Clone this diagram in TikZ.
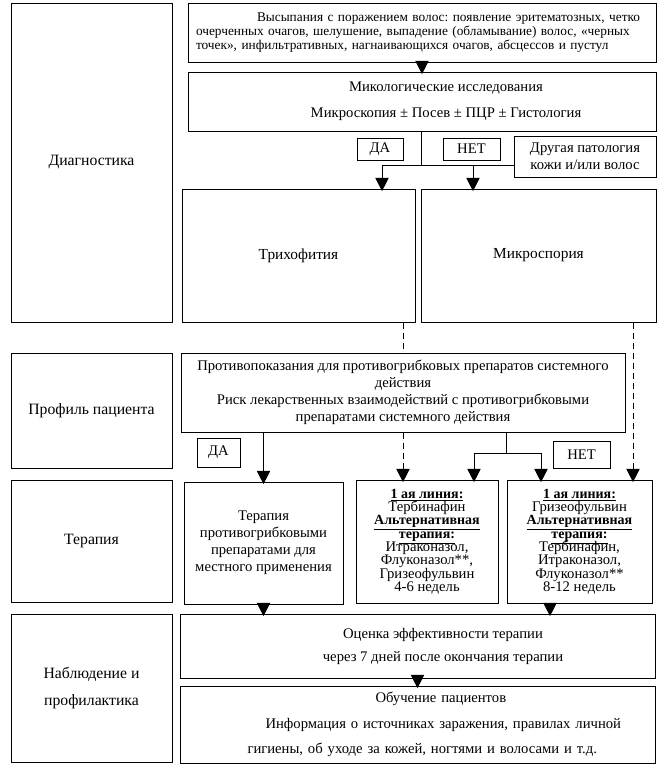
\documentclass[tikz,border=0pt]{standalone}
\usepackage{fontspec}
\setmainfont{Liberation Serif}
\usetikzlibrary{arrows.meta}
\newlength{\pxu}\setlength{\pxu}{0.75pt}
\newcommand{\drughead}[1]{{\fontsize{10.5}{10}\selectfont\bfseries\underline{#1}}}
\newcommand{\tightlines}{\lineskiplimit-20pt\relax}
\frenchspacing

\begin{document}
\begin{tikzpicture}[
    x=0.75pt, y=-0.75pt,
    box/.style args={#1/#2}{rectangle, draw=black, line width=0.75pt, fill=white, inner sep=0pt, minimum width=#1*0.75pt, minimum height=#2*0.75pt, align=center, font=\fontsize{11}{12.75}\selectfont},
    stage/.style args={#1/#2}{box=#1/#2, font=\fontsize{11.8}{20}\selectfont},
    drug/.style={font=\fontsize{11}{10}\selectfont\tightlines},
    link/.style={line width=0.75pt},
    arrow/.style={-{Triangle[width=10pt,length=10pt]}, line width=0.75pt, shorten >=-2pt},
    hint/.style={dash pattern=on 4.5pt off 3pt}
]
\useasboundingbox (0,0) rectangle (660,768);

% Stages (left column)
\node [stage=161/319] (diag) at (91.5,162.5) {Диагностика};
\node [stage=161/115] (profile) at (91.5,410.5) {Профиль пациента};
\node [stage=161/122] (therapy) at (91.5,541) {Терапия};
\node [stage=161/148] (follow) at (91.5,688) {Наблюдение и\\профилактика};

% Diagnosis
\node [box=468/59, text width=339pt, align=left, font=\fontsize{10}{10.5}\selectfont] (rash) at (422,32.5)
    {\hspace*{61\pxu}Высыпания с поражением волос: появление эритематозных, четко\\
     \mbox{очерченных очагов, шелушение, выпадение (обламывание) волос, «черных}\\
     точек», инфильтративных, нагнаивающихся очагов, абсцессов и пустул};
\node [box=468/59, font=\fontsize{11}{19.5}\selectfont] (myco) at (422,101.5)
    {\hspace*{48\pxu}Микологические исследования\\\hspace*{48\pxu}Микроскопия ± Посев ± ПЦР ± Гистология};
\node [box=46/22] (yes1) at (380,149) {ДА};
\node [box=57/22] (no1) at (471.5,149) {НЕТ};
\node [box=142/41] (other) at (585,156.5) {Другая патология\\кожи и/или волос};
\node [box=233/133, font=\fontsize{11.5}{13}\selectfont] (tricho) at (298.5,255.5) {Трихофития};
\node [box=235/133, font=\fontsize{11.5}{13}\selectfont] (micro) at (538.5,255.5) {Микроспория};

% Patient profile
\node [box=444/79] (contra) at (403,392.5)
    {Противопоказания для противогрибковых препаратов системного\\действия\\
     Риск лекарственных взаимодействий с противогрибковыми\\препаратами системного действия};
\node [box=43/29] (yes2) at (218.5,452.5) {ДА};
\node [box=57/27] (no2) at (581.5,454.5) {НЕТ};

% Therapy
\node [box=159/122] (local) at (263.5,543) {Терапия\\противогрибковыми\\препаратами для\\местного применения};
\node [box=142/123, drug] (trichoT) at (427,541.5)
    {\drughead{1 ая линия:}\\Тербинафин\\\drughead{Альтернативная}\\\drughead{терапия:}\\
     Итраконазол,\\Флуконазол**,\\Гризеофульвин\\4-6 недель};
\node [box=145/123, drug] (microT) at (579.5,541.5)
    {\drughead{1 ая линия:}\\Гризеофульвин\\\drughead{Альтернативная}\\\drughead{терапия:}\\
     Тербинафин,\\Итраконазол,\\Флуконазол**\\8-12 недель};

% Follow-up
\node [box=475/64, font=\fontsize{11}{17.25}\selectfont] (eval) at (417.5,646)
    {\hspace*{51\pxu}Оценка эффективности терапии\\\hspace*{51\pxu}через 7 дней после окончания терапии};
\node [box=475/77, text width=321pt, align=left, font=\fontsize{11}{19}\selectfont] (edu) at (417.5,724.5)
    {\hspace*{172\pxu}Обучение пациентов\\
     \hspace*{62\pxu}\mbox{Информация о источниках заражения, правилах личной}\\
     \hspace*{44\pxu}\mbox{гигиены, об уходе за кожей, ногтями и волосами и т.д.}};

% Fork points and lanes
\coordinate (fork1) at (421,165);
\coordinate (f1l) at (382,165);
\coordinate (f1r) at (473,165);
\coordinate (fork2) at (506,453);
\coordinate (f2l) at (474,453);
\coordinate (f2r) at (541,453);
\coordinate (laneM) at (633,0);
\coordinate (laneE) at (550,0);

% Arrows
\draw [arrow] (rash) -- (myco);
\draw [link] (myco.south -| fork1) -- (fork1);
\draw [link] (f1l) -- (f1l -| other.west);
\draw [arrow] (f1l) -- (f1l |- tricho.north);
\draw [arrow] (f1r) -- (f1r |- micro.north);
\draw [link, hint] (tricho.south -| contra.north) -- (contra.north);
\draw [arrow, hint] (contra.south) -- (contra.south |- trichoT.north);
\draw [arrow, hint] (micro.south -| laneM) -- (microT.north -| laneM);
\draw [arrow] (contra.south -| local.north) -- (local.north);
\draw [link] (contra.south -| fork2) -- (fork2);
\draw [link] (f2l) -- (f2r);
\draw [arrow] (f2l) -- (f2l |- trichoT.north);
\draw [arrow] (f2r) -- (f2r |- microT.north);
\draw [arrow] (local.south) -- (local.south |- eval.north);
\draw [arrow] (microT.south -| laneE) -- (eval.north -| laneE);
\draw [arrow] (eval.south) -- (edu.north);

\end{tikzpicture}
\end{document}
